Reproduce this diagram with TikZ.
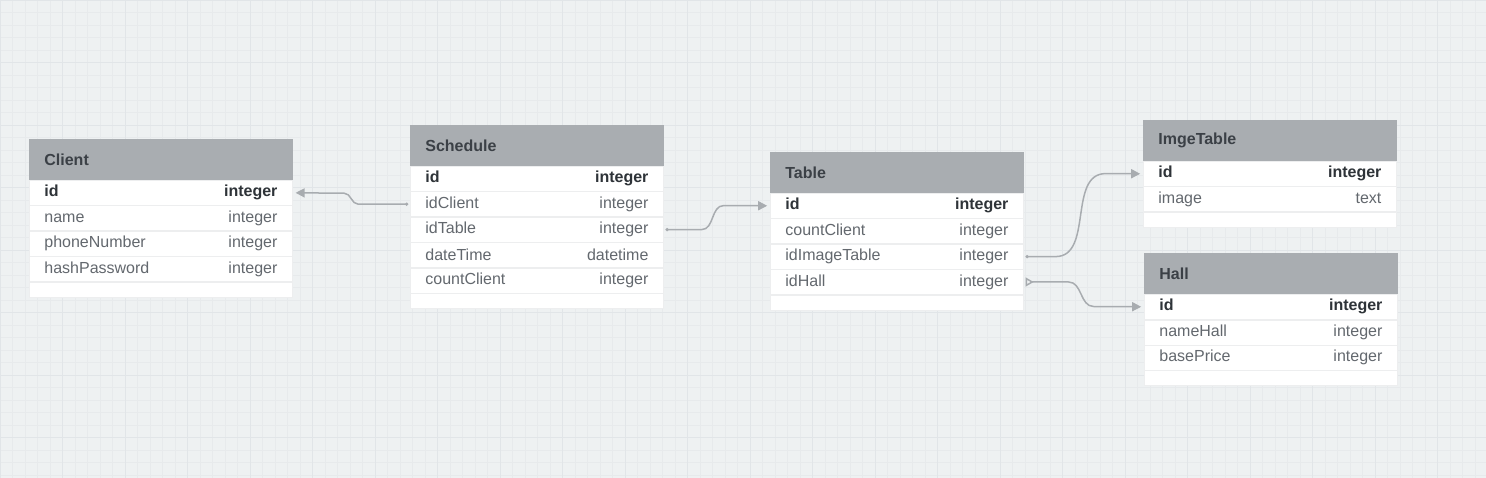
\documentclass[tikz,border=0pt]{standalone}
\usepackage{fontspec}
\setmainfont{Liberation Sans}
\usepackage{tikz}
\usetikzlibrary{matrix,arrows.meta}
\definecolor{paper}{HTML}{EEF1F2}
\definecolor{gridminor}{HTML}{E7EAEC}
\definecolor{gridmajor}{HTML}{E1E5E8}
\definecolor{headfill}{HTML}{A9ADB1}
\definecolor{headtext}{HTML}{3B4046}
\definecolor{celltext}{HTML}{63686E}
\definecolor{keytext}{HTML}{2E3338}
\definecolor{rowrule}{HTML}{EDEEEF}
\definecolor{link}{HTML}{A8ACB0}
\newcommand{\field}[2]{#1\hfill #2}
\newcommand{\keyfield}[2]{\textcolor{keytext}{\bfseries #1\hfill #2}}
\tikzset{
	entity/.style={matrix of nodes, nodes in empty cells, row sep=0pt, anchor=north west, inner sep=0pt,
		nodes={draw=rowrule, fill=white, minimum height=25pt, text width=#1, inner xsep=15pt, inner ysep=0pt,
			text=celltext, font=\fontsize{16}{19}\selectfont},
		row 1/.style={nodes={fill=headfill, draw=headfill, minimum height=40.5pt, text=headtext,
			font=\fontsize{16}{19}\selectfont\bfseries}}},
	pad/.style={minimum height=15pt},
	relation/.style={draw=link, line width=1.5pt, shorten >=3pt, shorten <=2pt},
}

\begin{document}
\begin{tikzpicture}[x=1pt, y=-1pt]
	\useasboundingbox (0,0) rectangle (1486,478);
	\fill[paper] (0,0) rectangle (1486,478);
	\draw[gridminor, line width=0.5pt, step=12.5pt] (0,0) grid (1486,478);
	\draw[gridmajor, line width=0.7pt, step=62.5pt] (0,0) grid (1486,478);

	\matrix (client) [entity=233pt] at (29,139)
	{
		Client \\
		\keyfield{id}{integer} \\
		\field{name}{integer} \\
		\field{phoneNumber}{integer} \\
		\field{hashPassword}{integer} \\
		|[pad]| \\
	};
	\matrix (schedule) [entity=223pt] at (410,125)
	{
		Schedule \\
		\keyfield{id}{integer} \\
		\field{idClient}{integer} \\
		\field{idTable}{integer} \\
		\field{dateTime}{datetime} \\
		\field{countClient}{integer} \\
		|[pad]| \\
	};
	\matrix (table) [entity=223pt] at (770,152)
	{
		Table \\
		\keyfield{id}{integer} \\
		\field{countClient}{integer} \\
		\field{idImageTable}{integer} \\
		\field{idHall}{integer} \\
		|[pad]| \\
	};
	\matrix (imge) [entity=223pt] at (1143,120)
	{
		ImgeTable \\
		\keyfield{id}{integer} \\
		\field{image}{text} \\
		|[pad]| \\
	};
	\matrix (hall) [entity=223pt] at (1144,253)
	{
		Hall \\
		\keyfield{id}{integer} \\
		\field{nameHall}{integer} \\
		\field{basePrice}{integer} \\
		|[pad]| \\
	};

	% foreign keys
	\draw[relation, {Circle[length=3pt]}-{Triangle[length=9pt,width=9pt]}]
		(schedule-3-1.west) -- ++(-52,0) to[out=180,in=0] ++(-14,-11) -- (client-2-1.east);
	\draw[relation, {Circle[length=3pt]}-{Triangle[length=9pt,width=9pt]}]
		(schedule-4-1.east) -- ++(38,0) to[out=0,in=180] ++(22,-24) -- (table-2-1.west);
	\draw[relation, {Circle[length=3pt]}-{Triangle[length=9pt,width=9pt]}]
		(table-4-1.east) -- ++(32,0) to[out=0,in=180] ++(50,-83) -- (imge-2-1.west);
	\draw[relation, {Triangle[open,reversed,length=8pt,width=9pt]}-{Triangle[length=9pt,width=9pt]}]
		(table-5-1.east) -- ++(45,0) to[out=0,in=180] ++(25,24.5) -- (hall-2-1.west);
\end{tikzpicture}
\end{document}
